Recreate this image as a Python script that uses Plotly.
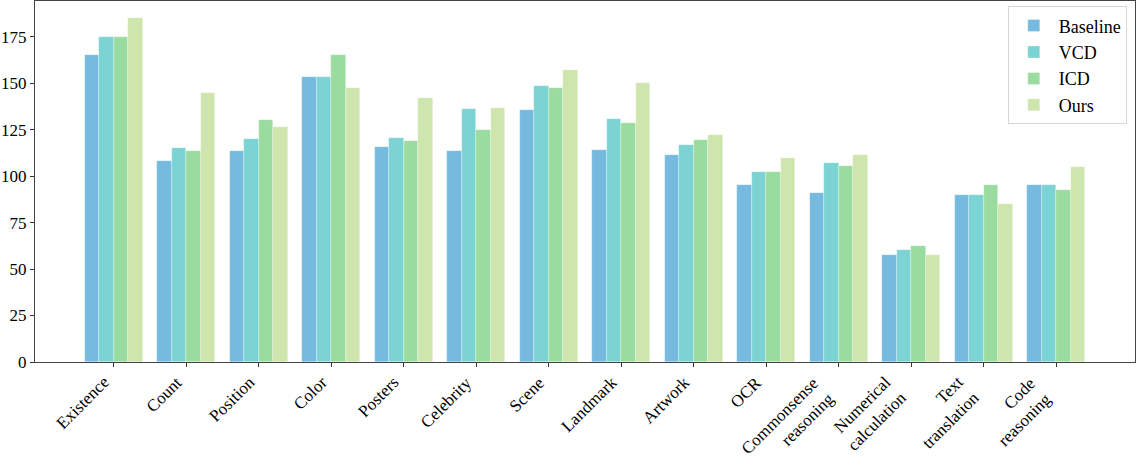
import plotly.graph_objects as go

categories = ["Existence", "Count", "Position", "Color", "Posters", "Celebrity", "Scene",
              "Landmark", "Artwork", "OCR", "Commonsense<br>reasoning", "Numerical<br>calculation",
              "Text<br>translation", "Code<br>reasoning"]
baseline = [165, 108.33, 113.33, 153.33, 115.82, 113.53, 135.75, 114.25, 111.5, 95, 90.71, 57.5, 90, 95]
vcd = [175, 115, 120, 153.33, 120.75, 136.18, 148.25, 131, 117, 102.5, 106.86, 60, 90, 95]
icd = [175, 113.33, 130, 165, 118.71, 124.71, 147.5, 128.75, 119.5, 102.5, 105.71, 62.5, 95, 92.5]
ours = [185, 145, 126.67, 147.5, 142.18, 136.76, 157, 150.25, 122.25, 110, 111.43, 57.5, 85, 105]

series_names = ["Baseline", "VCD", "ICD", "Ours"]
colors = ["#76bbdf", "#7bd3d3", "#9adca0", "#cfe5ae"]

x = list(range(len(categories)))
fig = go.Figure()
for i, (name, vals) in enumerate(zip(series_names, [baseline, vcd, icd, ours])):
    fig.add_trace(go.Bar(
        x=[xi + (i - 1.5) * 0.2 for xi in x], y=vals, name=name, width=0.2,
        marker=dict(color=colors[i], line=dict(width=0.6, color="rgba(255,255,255,0.5)")),
    ))

font = "Liberation Serif, Times New Roman, serif"

# category labels, rotated and right-aligned like the reference
for xi, label in zip(x, categories):
    fig.add_annotation(
        x=xi, y=0, xref="x", yref="paper", text=label, showarrow=False,
        textangle=-45, xanchor="right", yanchor="top", align="right",
        yshift=-8, xshift=2, font=dict(family=font, size=17, color="black"),
    )

fig.update_layout(
    width=1136, height=473,
    margin=dict(l=35, r=1, t=1, b=111, autoexpand=False),
    plot_bgcolor="white", paper_bgcolor="white",
    font=dict(family=font, size=17, color="black"),
    barmode="overlay", bargap=0,
    showlegend=True,
    legend=dict(x=0.9925, y=0.985, xanchor="right", yanchor="top",
                bordercolor="#d6d6d6", borderwidth=1, bgcolor="rgba(255,255,255,0.8)",
                font=dict(family=font, size=18), itemwidth=40),
)
fig.update_xaxes(
    range=[-1.09, 14.09], tickmode="array", tickvals=x, showticklabels=False,
    ticks="outside", ticklen=4, tickcolor="#333", automargin=False,
    showline=True, linecolor="#444", linewidth=1, mirror=True, showgrid=False, zeroline=False,
)
fig.update_yaxes(
    range=[0, 194.25], tickmode="array", tickvals=[0, 25, 50, 75, 100, 125, 150, 175],
    ticks="outside", ticklen=4, tickcolor="#333", automargin=False,
    showline=True, linecolor="#444", linewidth=1, mirror=True, showgrid=False, zeroline=False,
)
fig.write_html("out.html", config={"displayModeBar": False},
               post_script="document.body.style.margin='0';document.body.style.overflow='hidden';")
